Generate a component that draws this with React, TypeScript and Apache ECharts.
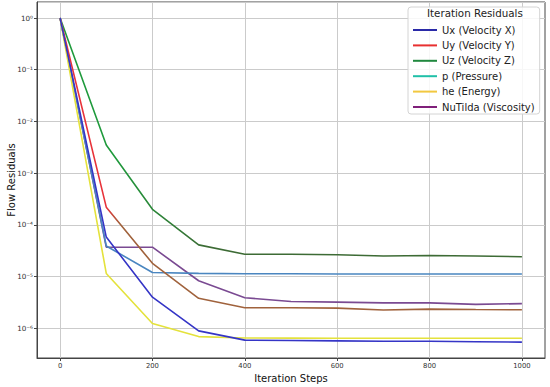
import React, { useEffect, useRef } from "react";
import * as echarts from "echarts";

const steps = [0, 100, 200, 300, 400, 500, 600, 700, 800, 900, 1000];
const seriesNames = ["Ux (Velocity X)", "Uy (Velocity Y)", "Uz (Velocity Z)", "p (Pressure)", "he (Energy)", "NuTilda (Viscosity)"];
const ux = [1, 5.8e-5, 4.0e-6, 8.9e-7, 5.9e-7, 5.8e-7, 5.7e-7, 5.6e-7, 5.6e-7, 5.5e-7, 5.4e-7];
const uy = [1, 2.2e-4, 1.8e-5, 3.8e-6, 2.5e-6, 2.5e-6, 2.45e-6, 2.25e-6, 2.35e-6, 2.3e-6, 2.28e-6];
const uz = [1, 3.5e-3, 2.0e-4, 4.1e-5, 2.7e-5, 2.7e-5, 2.65e-5, 2.5e-5, 2.55e-5, 2.5e-5, 2.42e-5];
const pr = [1, 3.9e-5, 1.2e-5, 1.15e-5, 1.13e-5, 1.13e-5, 1.12e-5, 1.12e-5, 1.12e-5, 1.12e-5, 1.12e-5];
const he = [1, 1.15e-5, 1.24e-6, 6.9e-7, 6.5e-7, 6.45e-7, 6.4e-7, 6.4e-7, 6.4e-7, 6.4e-7, 6.4e-7];
const nu = [1, 3.7e-5, 3.7e-5, 8.3e-6, 3.9e-6, 3.3e-6, 3.2e-6, 3.1e-6, 3.1e-6, 2.9e-6, 3.0e-6];
const xTicks = [0, 200, 400, 600, 800, 1000];

const supMap: Record<string, string> = { "-": "⁻", "0": "⁰", "1": "¹", "2": "²", "3": "³", "4": "⁴", "5": "⁵", "6": "⁶", "7": "⁷", "8": "⁸", "9": "⁹" };
const sup = (n: number) => String(n).split("").map((c) => supMap[c] || c).join("");

const FONT = "DejaVu Sans";

function grad(c1: string, c2: string, a: number, b: number) {
  return {
    type: "linear", x: 0, y: 0, x2: 1, y2: 0,
    colorStops: [
      { offset: 0, color: c1 }, { offset: a, color: c1 },
      { offset: b, color: c2 }, { offset: 1, color: c2 },
    ],
  };
}

export default function App() {
  const ref = useRef<HTMLDivElement>(null);
  useEffect(() => {
    if (!ref.current) return;
    const chart = echarts.init(ref.current, null, { renderer: "svg" });
    const dataSets = [ux, uy, uz, pr, he, nu];
    const lineColors: any[] = [
      "#3535c6",
      grad("#e8333a", "#a0623c", 0.1, 0.13),
      grad("#1f9a3c", "#3d6b35", 0.12, 0.32),
      "#4a86c0",
      "#e4e23c",
      "#7a4a92",
    ];
    const legendColors = ["#2a2aa8", "#e83030", "#20883e", "#20c0a8", "#f2c840", "#80207a"];
    const zs = [6, 4, 3, 2, 5, 1];
    chart.setOption({
      animation: false,
      textStyle: { fontFamily: FONT },
      title: {
        text: "Iteration Residuals",
        left: 427,
        top: 8,
        padding: 0,
        textStyle: { fontFamily: FONT, fontSize: 10.3, fontWeight: "normal", color: "#222" },
        z: 10,
      },
      legend: {
        orient: "vertical",
        left: 408,
        top: 7,
        padding: [17, 5, 1, 5],
        itemWidth: 24,
        itemHeight: 8,
        itemGap: 3.4,
        backgroundColor: "rgba(255,255,255,0.85)",
        borderColor: "#d4d4d4",
        borderWidth: 1,
        borderRadius: 3,
        textStyle: { fontFamily: FONT, fontSize: 10, lineHeight: 12, color: "#222" },
        data: seriesNames.map((n, i) => ({
          name: n,
          icon: "path://M0,0 L24,0 L24,2 L0,2 Z",
          itemStyle: { color: legendColors[i] },
          lineStyle: { color: legendColors[i] },
        })),
      },
      grid: {
        left: 37, right: 5, top: 2, bottom: 29,
        containLabel: false, outerBoundsMode: "none",
        show: true, borderColor: "#444", borderWidth: 1,
      },
      xAxis: {
        type: "value",
        min: -50,
        max: 1050,
        name: "Iteration Steps",
        nameLocation: "middle",
        nameGap: 13,
        nameTextStyle: { fontFamily: FONT, fontSize: 10, color: "#111" },
        axisLine: { show: true, onZero: false, lineStyle: { color: "#444" } },
        axisTick: { show: true, length: 3, customValues: xTicks, lineStyle: { color: "#444" } },
        axisLabel: {
          fontFamily: FONT, fontSize: 6.8, color: "#333", margin: 4,
          customValues: xTicks,
          formatter: (v: number) => String(v),
        },
        splitLine: { show: true, lineStyle: { color: "#cbcbcb", width: 1 } },
      },
      yAxis: {
        type: "log",
        logBase: 10,
        min: Math.pow(10, -6.575),
        max: Math.pow(10, 0.31),
        name: "Flow Residuals",
        nameLocation: "middle",
        nameGap: 21,
        nameMoveOverlap: false,
        nameTextStyle: { fontFamily: FONT, fontSize: 10, color: "#111" },
        axisLine: { show: true, onZero: false, lineStyle: { color: "#444" } },
        axisTick: { show: true, length: 3, lineStyle: { color: "#444" } },
        axisLabel: {
          fontFamily: FONT, fontSize: 7.2, color: "#333", margin: 4,
          showMinLabel: false, showMaxLabel: false,
          formatter: (v: number) => {
            const n = Math.round(Math.log10(v));
            if (Math.abs(Math.log10(v) - n) > 1e-6) return "";
            return "10" + sup(n);
          },
        },
        splitLine: { show: true, lineStyle: { color: "#cbcbcb", width: 1 } },
      },
      series: dataSets.map((d, i) => ({
        name: seriesNames[i],
        type: "line",
        data: steps.map((s, j) => [s, d[j]]),
        symbol: "none",
        showSymbol: false,
        z: zs[i],
        lineStyle: { color: lineColors[i], width: 1.6 },
        itemStyle: { color: legendColors[i] },
      })),
    });
    return () => chart.dispose();
  }, []);
  return <div ref={ref} style={{ width: 550, height: 387, position: "absolute", left: 0, top: 0 }} />;
}
